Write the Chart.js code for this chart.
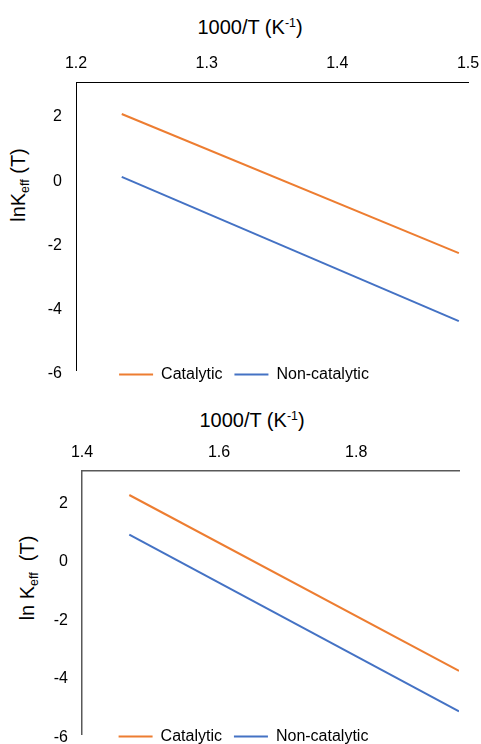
<!DOCTYPE html>
<html>
<head>
<meta charset="utf-8">
<script src="https://cdn.jsdelivr.net/npm/chart.js@4.4.1/dist/chart.umd.min.js"></script>
<style>
    body { margin: 0; background: #fff; font-family: "Liberation Sans", Arial, sans-serif; }
    #page { position: relative; width: 481px; height: 744px; overflow: hidden; }
    canvas { position: absolute; left: 0; }
    .xTitle { position: absolute; width: 200px; text-align: center; font-size: 20px; line-height: 24px; color: #000; }
    .yTitle { position: absolute; font-size: 20px; line-height: 24px; color: #000; white-space: nowrap;
              transform: translate(-50%, -50%) rotate(-90deg); }
    .xTitle sup { font-size: 0.62em; position: relative; top: -0.55em; vertical-align: baseline; }
    .yTitle sub { font-size: 0.62em; position: relative; top: 0.3em; vertical-align: baseline; }
</style>
</head>
<body>
<div id="page">
    <div class="xTitle" style="left:150px; top:15px;">1000/T (K<sup>-1</sup>)</div>
    <div class="yTitle" style="left:19px; top:185px;">lnK<sub>eff</sub> (T)</div>
    <canvas id="chartTop" width="481" height="394" style="top:0;"></canvas>

    <div class="xTitle" style="left:152px; top:408px;">1000/T (K<sup>-1</sup>)</div>
    <div class="yTitle" style="left:28px; top:578px;">ln K<sub>eff</sub>&nbsp; (T)</div>
    <canvas id="chartBottom" width="481" height="366" style="top:392px;"></canvas>
</div>

<script>
// upper plot
const xTop = [1.235, 1.493];
const catalyticTop = [2.0, -2.34];
const nonCatalyticTop = [0.04, -4.46];
const xRangeTop = [1.2, 1.5];
const xTicksTop = [1.2, 1.3, 1.4, 1.5];

// lower plot
const xBottom = [1.469, 1.95];
const catalyticBottom = [2.18, -3.83];
const nonCatalyticBottom = [0.83, -5.21];
const xRangeBottom = [1.4, 1.95];
const xTicksBottom = [1.4, 1.6, 1.8];

// shared y axis
const yRange = [-6, 3];
const yTicks = [-6, -4, -2, 0, 2];

const seriesNames = ['Catalytic', 'Non-catalytic'];
const ORANGE = '#ED7D31';
const BLUE = '#4472C4';

Chart.defaults.font.family = "'Liberation Sans', Arial, sans-serif";
Chart.defaults.font.size = 16;
Chart.defaults.color = '#000';

// Excel puts the legend right on the foot of the y axis, chart.js wants it below the plot
const legendNudge = {
    id: 'legendNudge',
    afterLayout(chart, args, opts) {
        const lg = chart.legend;
        lg.left += opts.dx;
        lg.right += opts.dx;
        lg.top = chart.chartArea.bottom + opts.dy;
        lg.bottom = lg.top + 40;
    }
};

const toPoints = (xs, ys) => xs.map((x, i) => ({ x: x, y: ys[i] }));

function makeChart(id, xs, cat, nonCat, xRange, xTicks, cfg) {
    const ctx = document.getElementById(id).getContext('2d');
    return new Chart(ctx, {
        type: 'scatter',
        data: {
            datasets: [{
                label: seriesNames[0],
                data: toPoints(xs, cat),
                borderColor: ORANGE,
                backgroundColor: ORANGE,
                borderWidth: 2,
                showLine: true,
                pointRadius: 0
            }, {
                label: seriesNames[1],
                data: toPoints(xs, nonCat),
                borderColor: BLUE,
                backgroundColor: BLUE,
                borderWidth: 2,
                showLine: true,
                pointRadius: 0
            }]
        },
        options: {
            responsive: false,
            animation: false,
            events: [],
            layout: { padding: cfg.padding },
            plugins: {
                legend: {
                    position: 'bottom',
                    maxHeight: 1,
                    labels: {
                        usePointStyle: true,
                        pointStyle: 'line',
                        pointStyleWidth: 34,
                        boxHeight: 16,
                        padding: 12,
                        color: '#000',
                        font: { size: 16 }
                    }
                },
                tooltip: { enabled: false },
                legendNudge: cfg.nudge
            },
            scales: {
                x: {
                    type: 'linear',
                    position: 'top',
                    min: xRange[0],
                    max: xRange[1],
                    afterBuildTicks: (s) => { s.ticks = xTicks.map(v => ({ value: v })); },
                    afterFit: (s) => {
                        s.height = 30;
                        // the last label may hang past the plot edge, as in Excel
                        s.paddingLeft = 0;
                        s.paddingRight = 0;
                    },
                    grid: { display: false, drawTicks: false },
                    border: { display: true, color: cfg.axisColor, width: cfg.axisWidth },
                    ticks: {
                        padding: 9, maxRotation: 0, autoSkip: false, color: '#000',
                        callback: (v) => v.toFixed(1)
                    }
                },
                y: {
                    type: 'linear',
                    position: 'left',
                    min: yRange[0],
                    max: yRange[1],
                    afterBuildTicks: (s) => { s.ticks = yTicks.map(v => ({ value: v })); },
                    afterFit: (s) => { s.width = cfg.yWidth; },
                    grid: { display: false, drawTicks: false },
                    border: { display: true, color: cfg.axisColor, width: cfg.axisWidth },
                    ticks: { padding: 14, labelOffset: 3, color: '#000', callback: (v) => String(v) }
                }
            }
        },
        plugins: [legendNudge]
    });
}

makeChart('chartTop', xTop, catalyticTop, nonCatalyticTop, xRangeTop, xTicksTop, {
    padding: { top: 52, right: 13, bottom: 0, left: 0 },
    yWidth: 76,
    axisColor: '#000',
    axisWidth: 1,
    nudge: { dx: 10, dy: -16 }
});

makeChart('chartBottom', xBottom, catalyticBottom, nonCatalyticBottom, xRangeBottom, xTicksBottom, {
    padding: { top: 49, right: 22, bottom: 0, left: 0 },
    yWidth: 82,
    axisColor: '#595959',
    axisWidth: 1.5,
    nudge: { dx: 14, dy: -18 }
});
</script>
</body>
</html>
